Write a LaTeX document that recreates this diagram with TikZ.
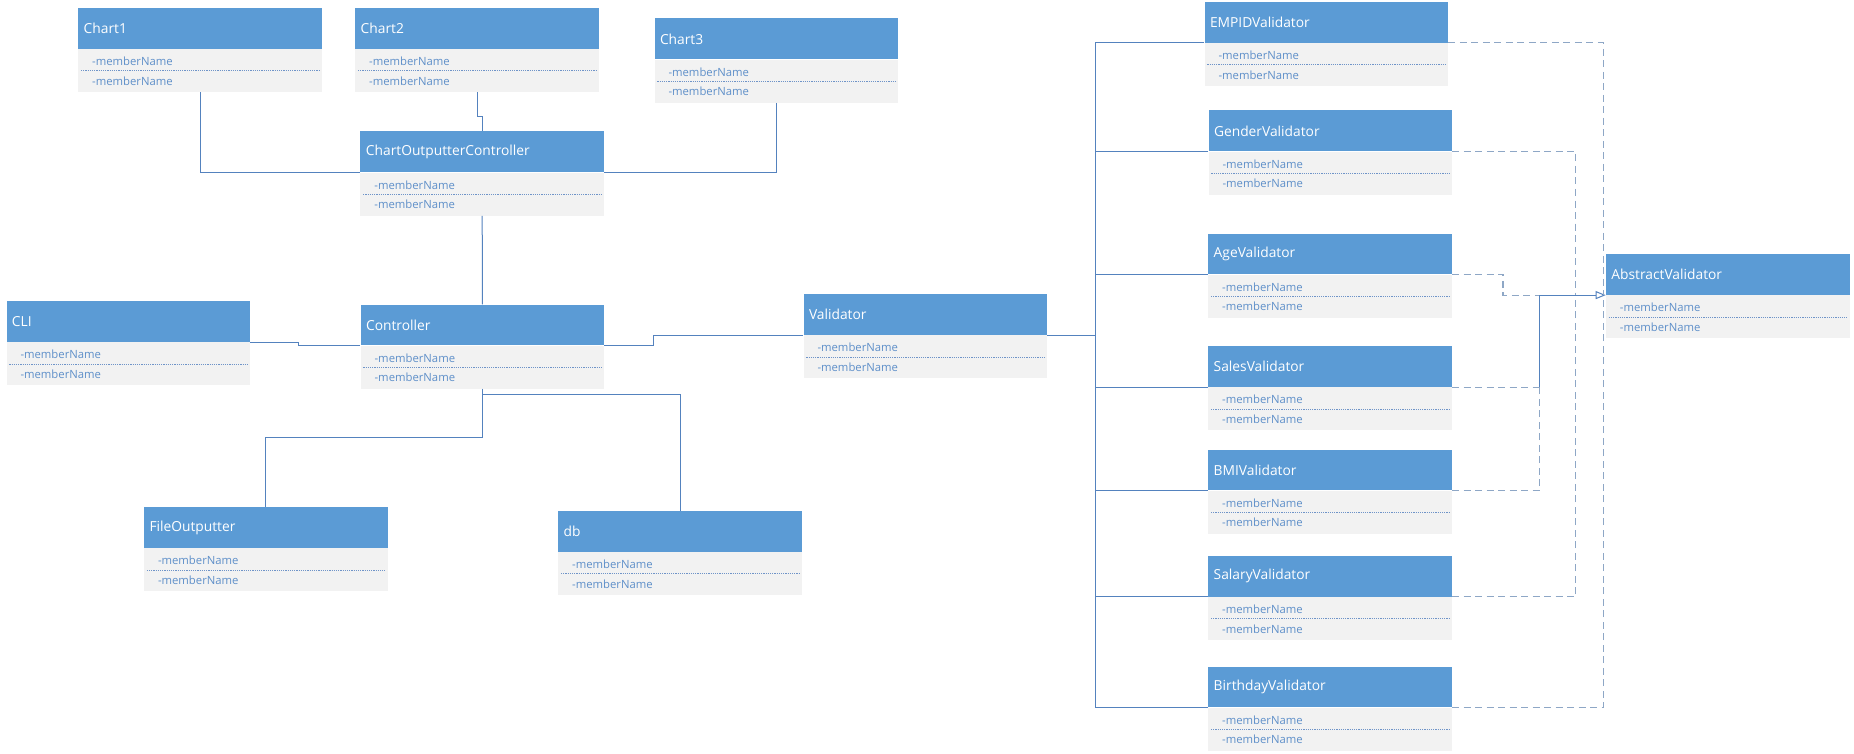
\documentclass[tikz,border=0pt]{standalone}
\usepackage{fontspec}
\setmainfont{Open Sans}
\usetikzlibrary{arrows.meta,calc}
\definecolor{hdrblue}{HTML}{5B9BD5}
\definecolor{bodygray}{HTML}{F2F2F2}
\definecolor{memcol}{HTML}{5E8FC9}
\definecolor{lineblue}{HTML}{5482BE}
\definecolor{dashcol}{HTML}{8EA7C6}
\definecolor{sepcol}{HTML}{6F94C8}
\tikzset{
  hdr/.style={rectangle, fill=hdrblue, inner xsep=5.5pt, inner ysep=0pt, text width=232.6pt,
    minimum height=40.7pt, align=left, text=white, font=\fontsize{13.8}{16}\selectfont},
  bdy/.style={rectangle, fill=bodygray, minimum width=243.6pt, minimum height=43pt, inner sep=0pt},
  mem/.style={inner sep=0pt, text=memcol, font=\fontsize{11.3}{13}\selectfont},
  sepline/.style={draw=sepcol, line width=0.8pt, dash pattern=on 1.2pt off 1pt},
  conn/.style={draw=lineblue, line width=1pt},
  dconn/.style={draw=dashcol, line width=1.1pt, dash pattern=on 7pt off 4.5pt},
}
\newcommand\umlclass[4]{%
  \node[hdr, anchor=north west] (#1) at (#2,#3) {#4};
  \node[bdy, anchor=north west] (#1-b) at (#1.south west) {};
  \draw[sepline] ([xshift=3pt,yshift=-22pt]#1-b.north west) -- ([xshift=-3pt,yshift=-22pt]#1-b.north east);
  \node[mem, anchor=west] (#1-m1) at ([xshift=14pt,yshift=-12.5pt]#1-b.north west) {-memberName};
  \node[mem, anchor=west] (#1-m2) at ([xshift=14pt,yshift=-32pt]#1-b.north west) {-memberName};
}
\begin{document}
\begin{tikzpicture}[x=1pt,y=-1pt]
\fill[white] (0,0) rectangle (1854,754);
\useasboundingbox (0,0) rectangle (1854,754);

\umlclass{Chart1}{78}{7.7}{Chart1}
\umlclass{Chart2}{355}{7.7}{Chart2}
\umlclass{Chart3}{654.3}{18.3}{Chart3}
\umlclass{COC}{360.2}{131.3}{ChartOutputterController}
\umlclass{CLI}{6.3}{301}{CLI}
\umlclass{Controller}{360.4}{304.3}{Controller}
\umlclass{Validator}{803.3}{294}{Validator}
\umlclass{FileOutputter}{143.8}{507}{FileOutputter}
\umlclass{db}{558}{510.7}{db}
\umlclass{EMPID}{1204.3}{1.7}{EMPIDValidator}
\umlclass{Gender}{1208.3}{110.3}{GenderValidator}
\umlclass{Age}{1208}{233.3}{AgeValidator}
\umlclass{Sales}{1208}{346}{SalesValidator}
\umlclass{BMI}{1208}{449.3}{BMIValidator}
\umlclass{Salary}{1208}{555.7}{SalaryValidator}
\umlclass{Birthday}{1208}{666.3}{BirthdayValidator}
\umlclass{AV}{1605.7}{254}{AbstractValidator}

% left part connectors
\draw[conn] (Chart1-b.south) |- (COC.south west);
\draw[conn] (Chart2-b.south) -- ++(0,24.6) -| (COC.north);
\draw[conn] (Chart3-b.south) |- (COC.south east);
\draw[conn] (COC-b.south) -- (Controller.north);
\draw[conn] (CLI.south east) -- ++(48.6,0) |- (Controller.south west);
\draw[conn] (Controller.south east) -- ++(48.7,0) |- (Validator.south west);
\draw[conn] (Controller-b.south) -- ++(0,6) -| (db.north);
\draw[conn] (Controller-b.south) -- ++(0,48.7) -| (FileOutputter.north);

% bus to validators
\foreach \v in {EMPID,Gender,Age,Sales,BMI,Salary,Birthday}{
  \draw[conn] (Validator.south east) -- ++(48.3,0) |- (\v.south west);
}

% generalisation connectors
\coordinate (trunk) at ($(AV.south west)+(-66.1,0)$);
\coordinate (gv) at ($(AV.south west)+(-30,0)$);
\coordinate (ev) at ($(AV.south west)+(-2.5,0)$);
\draw[dconn] (Age.south east) -- ++(51,0) |- (trunk);
\draw[dconn] (Sales.south east) -- (Sales.south east -| trunk);
\draw[dconn] (BMI.south east) -| (Sales.south east -| trunk);
\draw[conn, -{Triangle[open, length=10pt, width=8pt]}] (Sales.south east -| trunk) |- (AV.south west);
\draw[dconn] (Gender.south east) -| (gv);
\draw[dconn] (Salary.south east) -| (gv);
\draw[dconn] (EMPID.south east) -| (ev);
\draw[dconn] (Birthday.south east) -| (ev);
\end{tikzpicture}
\end{document}
